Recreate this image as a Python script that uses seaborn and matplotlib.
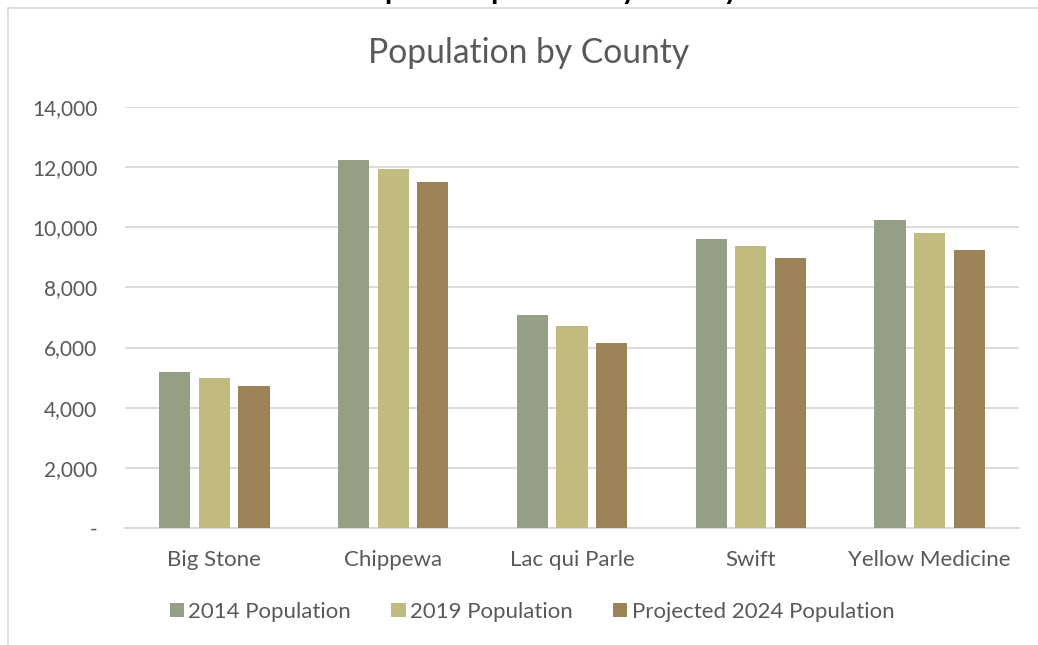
import numpy as np
import pandas as pd
import seaborn as sns
import matplotlib.pyplot as plt
from matplotlib.lines import Line2D
from matplotlib.ticker import FuncFormatter

# County populations
counties = ["Big Stone", "Chippewa", "Lac qui Parle", "Swift", "Yellow Medicine"]
series = ["2014 Population", "2019 Population", "Projected 2024 Population"]
pop_2014 = [5180, 12230, 7090, 9610, 10230]
pop_2019 = [5000, 11950, 6720, 9370, 9820]
pop_2024 = [4720, 11500, 6140, 8980, 9240]
y_ticks = [0, 2000, 4000, 6000, 8000, 10000, 12000, 14000]
colors = ["#949F86", "#C2BB7F", "#9C8257"]

df = pd.DataFrame({
    "County": counties * 3,
    "Series": np.repeat(series, len(counties)),
    "Population": pop_2014 + pop_2019 + pop_2024,
})

sns.set_theme(style="white")
plt.rcParams["font.family"] = ["Lato", "DejaVu Sans"]
text_color = "#595959"
grid_color = "#D9D9D9"

W, H = 1038, 645
fig = plt.figure(figsize=(W / 100, H / 100), dpi=100)
ax = fig.add_axes([125 / W, 1 - 528 / H, (1019 - 125) / W, (528 - 107) / H])

sns.barplot(data=df, x="County", y="Population", hue="Series",
            palette=colors, saturation=1, width=0.663, gap=0.21,
            linewidth=0, ax=ax, zorder=3)

ax.set_ylim(0, 14000)
ax.set_yticks(y_ticks)
ax.yaxis.set_major_formatter(FuncFormatter(lambda v, p: "-" if v == 0 else f"{int(v):,}"))
ax.grid(axis="y", color=grid_color, linewidth=1.3, zorder=0)
ax.set_axisbelow(True)
for side in ["left", "right", "top"]:
    ax.spines[side].set_visible(False)
ax.spines["bottom"].set_color(grid_color)
ax.spines["bottom"].set_linewidth(1.3)
ax.set_xlabel("")
ax.set_ylabel("")
ax.tick_params(axis="y", length=0, pad=20, labelsize=15, labelcolor=text_color)
ax.tick_params(axis="x", length=0, pad=16, labelsize=16, labelcolor=text_color)

handles, labels = ax.get_legend_handles_labels()
ax.get_legend().remove()
fig.legend(handles, labels, loc="center", bbox_to_anchor=(532 / W, 1 - 612 / H),
           ncol=3, frameon=False, fontsize=16, labelcolor=text_color,
           handlelength=0.65, handleheight=0.6, handletextpad=0.2, columnspacing=1.8)

fig.text(0.509, 1 - 53 / H, "Population by County", ha="center", va="center",
         fontsize=24.2, color=text_color)
fig.text(0.519, 1 + 0.5 / H, "Graph 1: Population by County", ha="center",
         va="baseline", fontsize=21, fontweight="bold", color="black")

# chart frame
fig.add_artist(Line2D([7.5 / W, 7.5 / W], [0, 1 - 8 / H], transform=fig.transFigure,
                      color=grid_color, linewidth=1.2))
fig.add_artist(Line2D([7.5 / W, 1], [1 - 8 / H, 1 - 8 / H], transform=fig.transFigure,
                      color=grid_color, linewidth=1.2))

fig.savefig("out.png", dpi=100, facecolor="white")
